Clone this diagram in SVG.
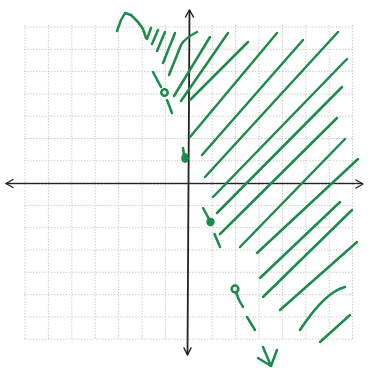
<svg xmlns="http://www.w3.org/2000/svg" width="369" height="368" viewBox="0 0 369 368">
<style>
.grid line{stroke:#cdcdcd;stroke-width:1;stroke-dasharray:1.5 1.5}
.axis{stroke:#222;fill:none;stroke-linecap:round;stroke-linejoin:round}
.g{stroke:#1b8b4c;stroke-width:2.5;fill:none;stroke-linecap:round;stroke-linejoin:round}
</style>
<rect width="369" height="368" fill="#ffffff"/>
<g class="grid">
<line x1="25" y1="25" x2="25" y2="340"/>
<line x1="48.4" y1="25" x2="48.4" y2="340"/>
<line x1="71.8" y1="25" x2="71.8" y2="340"/>
<line x1="95.2" y1="25" x2="95.2" y2="340"/>
<line x1="118.6" y1="25" x2="118.6" y2="340"/>
<line x1="142" y1="25" x2="142" y2="340"/>
<line x1="165.4" y1="25" x2="165.4" y2="340"/>
<line x1="212.2" y1="25" x2="212.2" y2="340"/>
<line x1="235.6" y1="25" x2="235.6" y2="340"/>
<line x1="259" y1="25" x2="259" y2="340"/>
<line x1="282.4" y1="25" x2="282.4" y2="340"/>
<line x1="305.8" y1="25" x2="305.8" y2="340"/>
<line x1="329.2" y1="25" x2="329.2" y2="340"/>
<line x1="352.6" y1="25" x2="352.6" y2="340"/>
<line x1="24" y1="27" x2="354" y2="27"/>
<line x1="24" y1="49.3" x2="354" y2="49.3"/>
<line x1="24" y1="71.6" x2="354" y2="71.6"/>
<line x1="24" y1="93.9" x2="354" y2="93.9"/>
<line x1="24" y1="116.2" x2="354" y2="116.2"/>
<line x1="24" y1="138.5" x2="354" y2="138.5"/>
<line x1="24" y1="160.8" x2="354" y2="160.8"/>
<line x1="24" y1="205.4" x2="354" y2="205.4"/>
<line x1="24" y1="227.7" x2="354" y2="227.7"/>
<line x1="24" y1="250" x2="354" y2="250"/>
<line x1="24" y1="272.3" x2="354" y2="272.3"/>
<line x1="24" y1="294.6" x2="354" y2="294.6"/>
<line x1="24" y1="316.9" x2="354" y2="316.9"/>
<line x1="24" y1="339.2" x2="354" y2="339.2"/>
</g>
<g id="axes">
<path class="axis" d="M6,183.5 L362,183.5" stroke-width="1.3" stroke-dasharray="2.5 1"/>
<path class="axis" d="M13,179.5 L6,183.5 L13,187.5" stroke-width="1.4"/>
<path class="axis" d="M356,180 L363,184 L356,188" stroke-width="1.4"/>
<path class="axis" d="M189.5,11 L187.5,354" stroke-width="1.8"/>
<path class="axis" d="M185.5,17 L189.5,10 L193.5,17" stroke-width="1.5"/>
<path class="axis" d="M184,348 L187.5,355 L191,348" stroke-width="1.5"/>
</g>
<g id="boundary">
<path class="g" d="M117,31 L121,20 L125,13 L131,15 L138,22 L143,29 L146,38" stroke-width="3"/>
<path class="g" d="M153,72 L161,87"/>
<circle class="g" cx="164.5" cy="92.5" r="3.2" stroke-width="2.8"/>
<path class="g" d="M167,100 L172,113"/>
<path class="g" d="M183,148 L184,155"/>
<ellipse cx="185" cy="158" rx="3.8" ry="5" fill="#1b8b4c"/>
<path class="g" d="M203,208 L209,219"/>
<circle cx="210.5" cy="222" r="4.2" fill="#1b8b4c"/>
<path class="g" d="M214.5,234 L220,247"/>
<circle class="g" cx="235" cy="289" r="3.4" stroke-width="2.8"/>
<path class="g" d="M236,292 L239,300 L243,307" stroke-width="2.8"/>
<path class="g" d="M247,317 L255,330"/>
<path class="g" d="M263,347 L271,366 L277,350 M258,358 L271,366" stroke-width="2.8"/>
</g>
<g id="shading">
<path class="g" d="M147,39 L151,28"/>
<path class="g" d="M152,44 L158,30"/>
<path class="g" d="M157,51 L165,32"/>
<path class="g" d="M163,63 L175,33"/>
<path class="g" d="M169,75 L181,45 Q185,38 197,32"/>
<path class="g" d="M174,96 L210,37"/>
<path class="g" d="M181,101 L228,33"/>
<path class="g" d="M190,100 L248,42"/>
<path class="g" d="M190,137 L277,33"/>
<path class="g" d="M202,155 L303,40"/>
<path class="g" d="M205,177 L338,32"/>
<path class="g" d="M213,197 L347,59"/>
<path class="g" d="M217,213 L342,87"/>
<path class="g" d="M220,234 L337,118"/>
<path class="g" d="M240,247 L345,139"/>
<path class="g" d="M257,253 L358,159"/>
<path class="g" d="M260,278 L340,202"/>
<path class="g" d="M263,297 L352,210"/>
<path class="g" d="M280,310 L357,242"/>
<path class="g" d="M300,330 Q325,292 345,287"/>
<path class="g" d="M320,342 L350,315"/>
</g>
</svg>
